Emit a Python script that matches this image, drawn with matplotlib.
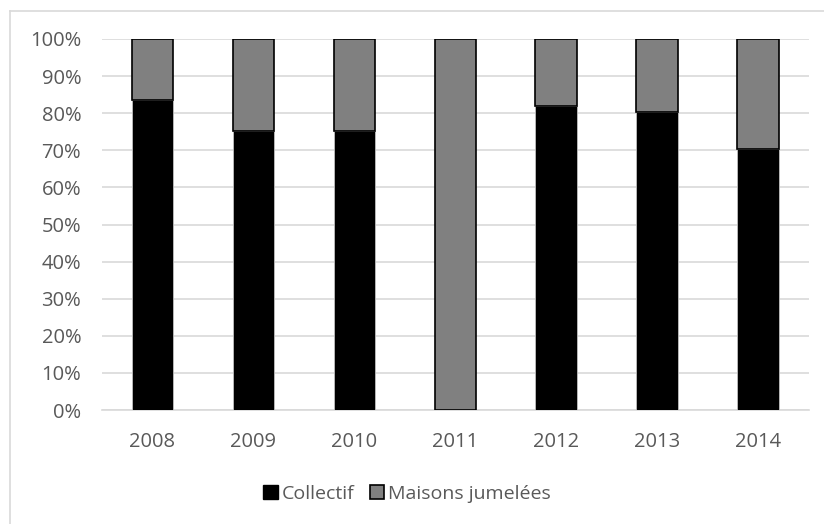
import matplotlib
matplotlib.use("Agg")
import matplotlib.pyplot as plt
from matplotlib.patches import Rectangle, Patch
from matplotlib.lines import Line2D

years = ["2008", "2009", "2010", "2011", "2012", "2013", "2014"]
collectif = [83.5, 75.2, 75.2, 0.0, 82.0, 80.2, 70.3]
maisons = [100 - c for c in collectif]
yticks = [0, 10, 20, 30, 40, 50, 60, 70, 80, 90, 100]
ytick_labels = [f"{v}%" for v in yticks]

plt.rcParams['font.family'] = ['Open Sans', 'DejaVu Sans']

fig = plt.figure(figsize=(8.24, 5.24), dpi=100)
W, H = 824, 524
ax = fig.add_axes([102 / W, 1 - 410 / H, (808.5 - 102) / W, (410 - 39) / H])

# outer frame (only top and left edges visible)
fig.add_artist(Line2D([9.5 / W, 1.0], [1 - 10.5 / H] * 2, transform=fig.transFigure,
                      color="#d9d9d9", lw=1.2))
fig.add_artist(Line2D([9.5 / W] * 2, [0.0, 1 - 10.5 / H], transform=fig.transFigure,
                      color="#d9d9d9", lw=1.2))

x = list(range(len(years)))
ax.bar(x, collectif, width=0.41, color="#000000", edgecolor="#bfbfbf", linewidth=0.6, zorder=3)
ax.bar(x, maisons, bottom=collectif, width=0.41, color="#808080", edgecolor="#000000",
       linewidth=1.2, zorder=3)

ax.set_xlim(-0.5, len(years) - 0.5)
ax.set_ylim(0, 100)
ax.set_yticks(yticks)
ax.set_yticklabels(ytick_labels)
ax.set_xticks(x)
ax.set_xticklabels(years)
ax.yaxis.grid(True, color="#d9d9d9", linewidth=1.2, zorder=0)
ax.set_axisbelow(True)
for s in ["top", "right", "left"]:
    ax.spines[s].set_visible(False)
ax.spines["bottom"].set_color("#d9d9d9")
ax.spines["bottom"].set_linewidth(1.2)
ax.tick_params(axis="both", length=0, labelsize=14.5, colors="#595959")
ax.tick_params(axis="y", pad=15)
ax.tick_params(axis="x", pad=16)

handles = [Patch(facecolor="#000000", edgecolor="#000000", linewidth=1),
           Patch(facecolor="#808080", edgecolor="#000000", linewidth=1.2)]
fig.legend(handles, ["Collectif", "Maisons jumelées"], loc="center",
           bbox_to_anchor=(407 / W, 1 - 494 / H), ncol=2, frameon=False,
           fontsize=14, labelcolor="#595959", handlelength=0.75, handleheight=0.75,
           handletextpad=0.2, columnspacing=0.8)

fig.savefig("out.png", dpi=100, facecolor="white")
